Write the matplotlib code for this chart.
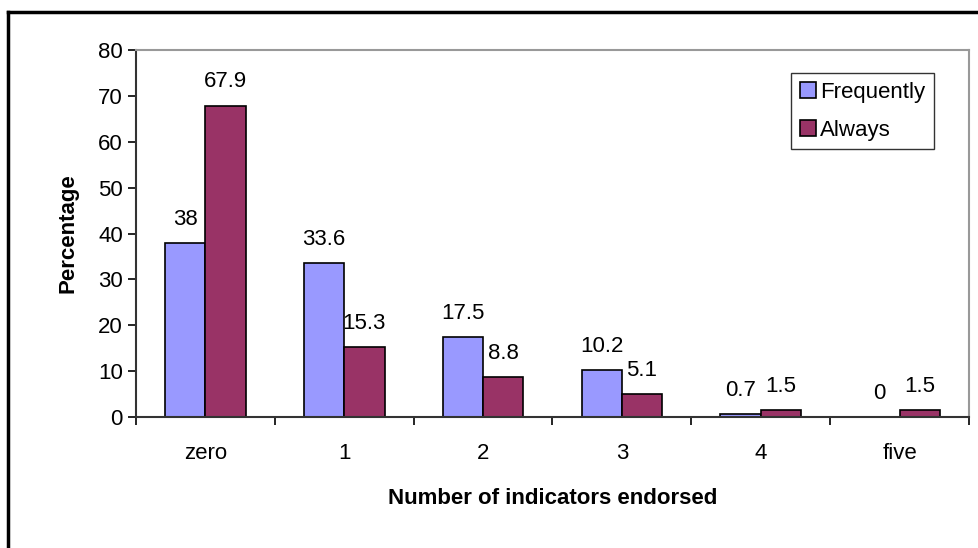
import numpy as np
import matplotlib.pyplot as plt
from matplotlib.lines import Line2D

plt.rcParams['font.family'] = ['Liberation Sans', 'DejaVu Sans']

kategoriler = ["zero", "1", "2", "3", "4", "five"]
frequently = [38, 33.6, 17.5, 10.2, 0.7, 0]
always = [67.9, 15.3, 8.8, 5.1, 1.5, 1.5]
seriler = ["Frequently", "Always"]

x = np.arange(len(kategoriler))
genislik = 0.29

fig = plt.figure(figsize=(9.79, 5.48), dpi=100)
ax = fig.add_axes([136 / 979, 1 - 417 / 548, (969 - 136) / 979, (417 - 50) / 548])

b1 = ax.bar(x - genislik / 2, frequently, genislik, color="#9999FF",
            edgecolor="black", linewidth=1.2, label=seriler[0])
b2 = ax.bar(x + genislik / 2, always, genislik, color="#993366",
            edgecolor="black", linewidth=1.2, label=seriler[1])

# degerleri cubuklarin ustune yaziyoruz
for cubuklar, degerler in [(b1, frequently), (b2, always)]:
    for c, d in zip(cubuklar, degerler):
        ax.annotate("%g" % d, (c.get_x() + c.get_width() / 2, c.get_height()),
                    xytext=(0, 13), textcoords="offset points",
                    ha="center", va="baseline", fontsize=16)

ax.set_xlim(-0.5, len(kategoriler) - 0.5)
ax.set_ylim(0, 80)
ax.set_yticks(range(0, 81, 10))
ax.tick_params(axis="y", labelsize=16, length=6, width=1.2, direction="out")

# x ekseninde tikler gruplarin arasinda
ax.set_xticks(np.arange(-0.5, len(kategoriler), 1))
ax.set_xticklabels([])
ax.set_xticks(x, minor=True)
ax.set_xticklabels(kategoriler, minor=True, fontsize=16)
ax.tick_params(axis="x", which="major", length=6, width=1.2)
ax.tick_params(axis="x", which="minor", length=0, pad=19)

for s in ["top", "right"]:
    ax.spines[s].set_color("#999999")
    ax.spines[s].set_linewidth(1.5)
for s in ["left", "bottom"]:
    ax.spines[s].set_color("#333333")
    ax.spines[s].set_linewidth(1.5)

ax.set_xlabel("Number of indicators endorsed", fontsize=16, fontweight="bold", labelpad=17)
ax.set_ylabel("Percentage", fontsize=16, fontweight="bold", labelpad=14)

leg = ax.legend(loc="upper right", bbox_to_anchor=(934 / 979, 1 - 73 / 548),
                bbox_transform=fig.transFigure, fontsize=16, frameon=True,
                fancybox=False, handlelength=0.7, handleheight=0.7,
                handletextpad=0.2, labelspacing=0.75, borderpad=0.4,
                borderaxespad=0)
leg.get_frame().set_edgecolor("black")
leg.get_frame().set_linewidth(1.0)

# dis cerceve
fig.add_artist(Line2D([8 / 979, 8 / 979], [0, 1 - 12 / 548], color="black", lw=2.5,
                      transform=fig.transFigure))
fig.add_artist(Line2D([8 / 979, 1], [1 - 12 / 548, 1 - 12 / 548], color="black", lw=2.5,
                      transform=fig.transFigure))

fig.savefig("out.png", dpi=100)
